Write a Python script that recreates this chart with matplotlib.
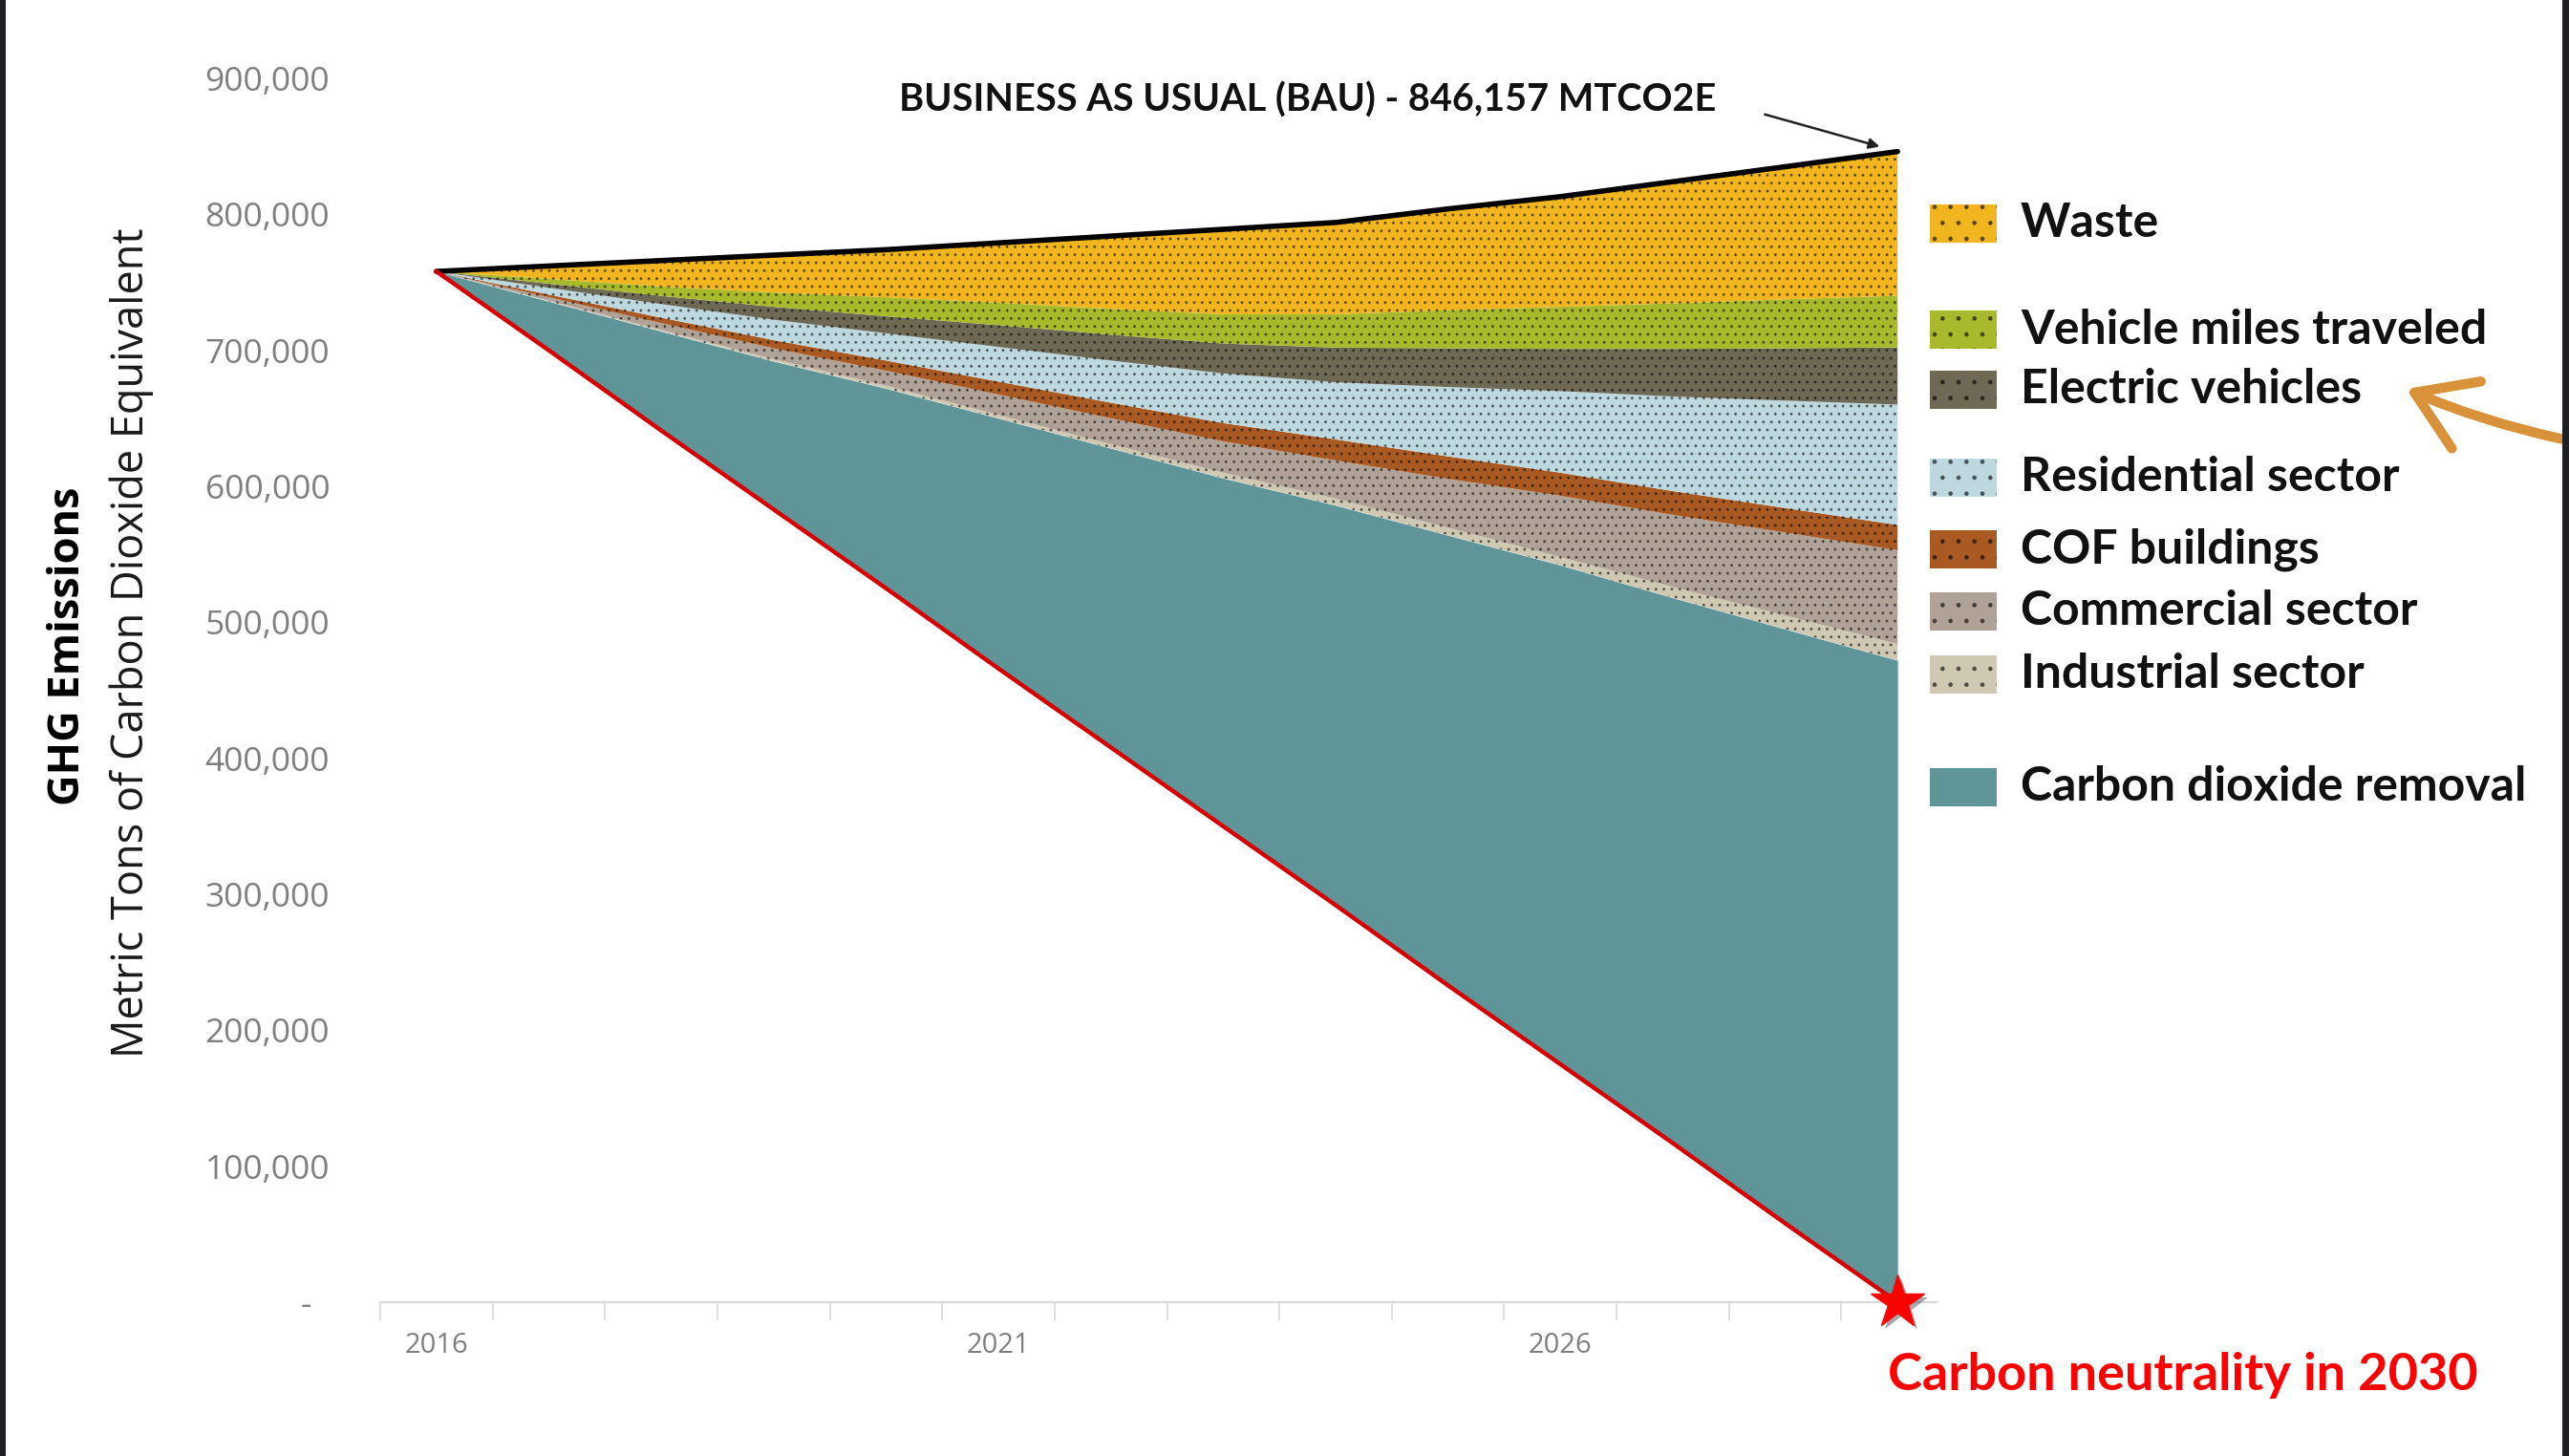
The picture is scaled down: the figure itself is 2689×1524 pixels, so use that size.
import matplotlib
matplotlib.use("Agg")
import matplotlib.pyplot as plt
import matplotlib.patheffects as pe
from matplotlib.patches import Rectangle, FancyArrowPatch, ArrowStyle
import numpy as np

# ---------------- data (metric tons CO2e) ----------------
years = list(range(2016, 2030))
target = [758000, 700000, 641000, 583000, 525000, 466000, 408000, 350000,
          292000, 233000, 175000, 117000, 58000, 0]
cdr = [0, 36000, 73000, 109000, 147000, 184000, 220000, 256000,
       294000, 331000, 367000, 401000, 437000, 472000]
industrial = [0, 500, 1000, 1500, 2000, 2500, 3000, 4000,
              5000, 5500, 6000, 8000, 10000, 12000]
commercial = [0, 2500, 5000, 8000, 11000, 15000, 19000, 23000,
              28000, 36000, 45000, 53000, 61000, 69000]
cof_buildings = [0, 2000, 4000, 6000, 7500, 9500, 11500, 13500,
                 15500, 16500, 17000, 17500, 18000, 18600]
residential = [0, 5000, 10000, 15000, 20000, 25500, 31000, 36500,
               42000, 51000, 60000, 69500, 79000, 88500]
electric_vehicles = [0, 3000, 6000, 9500, 12500, 16000, 19000, 22000,
                     25500, 28500, 31000, 35000, 38500, 42000]
vmt = [0, 3500, 7000, 10500, 14000, 16500, 19000, 21500,
       24500, 28000, 31000, 33500, 36000, 38000]
waste = [0, 9500, 19000, 27500, 35000, 44000, 53500, 62500,
         67500, 74500, 81000, 89500, 97500, 106057]

layer_names = ["Carbon dioxide removal", "Industrial sector", "Commercial sector",
               "COF buildings", "Residential sector", "Electric vehicles",
               "Vehicle miles traveled", "Waste"]
layer_values = [cdr, industrial, commercial, cof_buildings, residential,
                electric_vehicles, vmt, waste]
layer_colors = ["#5f9599", "#cfc8b2", "#b0a296", "#a95a22", "#bed8df",
                "#6d6954", "#a8ba2c", "#f1b520"]
layer_hatched = [False, True, True, True, True, True, True, True]

xtick_labels = [2016, 2021, 2026]
yticks = list(range(0, 900001, 100000))

W, H = 2689, 1524
fig = plt.figure(figsize=(W / 100, H / 100), dpi=100)
fig.patch.set_facecolor("white")

def fx(px):
    return px / W

def fy(py):
    return 1 - py / H

ax = fig.add_axes([fx(398), fy(1363), fx(2045) - fx(398), fy(82) - fy(1363)])

# ---------------- stacked areas ----------------
base = np.array(target, dtype=float)
for name, vals, col, hat in zip(layer_names, layer_values, layer_colors, layer_hatched):
    top = base + np.array(vals, dtype=float)
    ax.fill_between(years, base, top, facecolor=col,
                    edgecolor=(0, 0, 0, 0.45) if hat else col,
                    hatch=".." if hat else None, linewidth=0, zorder=2)
    base = top

bau = base
ax.plot(years, bau, color="black", lw=4.0, zorder=4, solid_capstyle="round")
ax.plot(years, target, color="#d40000", lw=3.2, zorder=4)
ax.plot([years[-1]], [target[-1]], marker="*", ms=42, color="#ff0000",
        mec="#ff0000", clip_on=False, zorder=6,
        path_effects=[pe.SimplePatchShadow(offset=(3, -3), shadow_rgbFace="#555555", alpha=0.5),
                      pe.Normal()])

# ---------------- axes styling ----------------
ax.set_xlim(2015.5, 2029.5)
ax.set_ylim(0, 900000)
for s in ["top", "right", "left"]:
    ax.spines[s].set_visible(False)
ax.spines["bottom"].set_color("#d9d9d9")
ax.spines["bottom"].set_linewidth(1.6)
ax.spines["bottom"].set_bounds(2015.5, 2029.35)

ax.set_xticks(np.arange(2015.5, 2029.0, 1.0))
ax.tick_params(axis="x", which="major", length=14, width=1.2, color="#d9d9d9",
               labelbottom=False)
ax.set_xticks(xtick_labels, minor=True)
ax.set_xticklabels([str(v) for v in xtick_labels], minor=True)
ax.tick_params(axis="x", which="minor", length=0, pad=22, labelsize=21,
               labelcolor="#7f7f7f")
for t in ax.get_xticklabels(minor=True):
    t.set_fontfamily("Open Sans")

ax.set_yticks(yticks)
ax.set_yticklabels([("-  " if v == 0 else f"{v:,}") for v in yticks])
ax.tick_params(axis="y", length=0, pad=38, labelsize=25.5, labelcolor="#7f7f7f")
for t in ax.get_yticklabels():
    t.set_fontfamily("Open Sans")

# ---------------- axis titles ----------------
fig.text(fx(72), fy(676), "GHG Emissions", rotation=90, ha="center", va="center",
         fontsize=32.5, fontweight="bold", family="Open Sans", color="black")
fig.text(fx(138), fy(673), "Metric Tons of Carbon Dioxide Equivalent", rotation=90,
         ha="center", va="center", fontsize=32.5, family="Open Sans", color="#1a1a1a")

# ---------------- BAU annotation ----------------
fig.text(fx(1369), fy(105), "BUSINESS AS USUAL (BAU) - 846,157 MTCO2E",
         ha="center", va="center", fontsize=28.5, fontweight="bold", family="Lato",
         color="#111111")
ax.annotate("", xy=(years[-1], bau[-1]), xytext=(-100, 28), textcoords="offset points",
            arrowprops=dict(arrowstyle="-|>", color="#222222", lw=1.8,
                            mutation_scale=16, shrinkA=0, shrinkB=14))

# ---------------- legend (manual, uneven spacing) ----------------
legend_rows = [("Waste", 234), ("Vehicle miles traveled", 345), ("Electric vehicles", 408),
               ("Residential sector", 500), ("COF buildings", 575),
               ("Commercial sector", 640), ("Industrial sector", 706),
               ("Carbon dioxide removal", 824)]
name_to_style = {n: (c, h) for n, c, h in zip(layer_names, layer_colors, layer_hatched)}
for label, py in legend_rows:
    col, hat = name_to_style[label]
    r = Rectangle((fx(2020), fy(py + 20)), fx(70), 40 / H, transform=fig.transFigure,
                  facecolor=col, edgecolor=(0, 0, 0, 0.5) if hat else col,
                  hatch="." if hat else None, linewidth=0)
    fig.add_artist(r)
    fig.text(fx(2115), fy(py), label, ha="left", va="center", fontsize=36,
             fontweight="bold", family="Lato", color="#111111")

# ---------------- carbon neutrality label ----------------
fig.text(fx(2285), fy(1439), "Carbon neutrality in 2030", ha="center", va="center",
         fontsize=39, fontweight="bold", family="Lato", color="#ff0000")

# ---------------- orange call-out arrow ----------------
arr = FancyArrowPatch((fx(2684), fy(460)), (fx(2516), fy(406)), transform=fig.transFigure,
                      connectionstyle="arc3,rad=-0.05",
                      arrowstyle=ArrowStyle("->", head_length=0.85, head_width=0.55),
                      mutation_scale=50, lw=7.5, color="#d9913a", capstyle="round",
                      joinstyle="round")
fig.add_artist(arr)

# ---------------- dark frame edges ----------------
fig.add_artist(Rectangle((0, 0), fx(6), 1, transform=fig.transFigure,
                         facecolor="#1f2023", edgecolor="none"))
fig.add_artist(Rectangle((fx(2682), 0), fx(7), 1, transform=fig.transFigure,
                         facecolor="#1f2023", edgecolor="none", zorder=10))

fig.savefig("out.png", dpi=100)
